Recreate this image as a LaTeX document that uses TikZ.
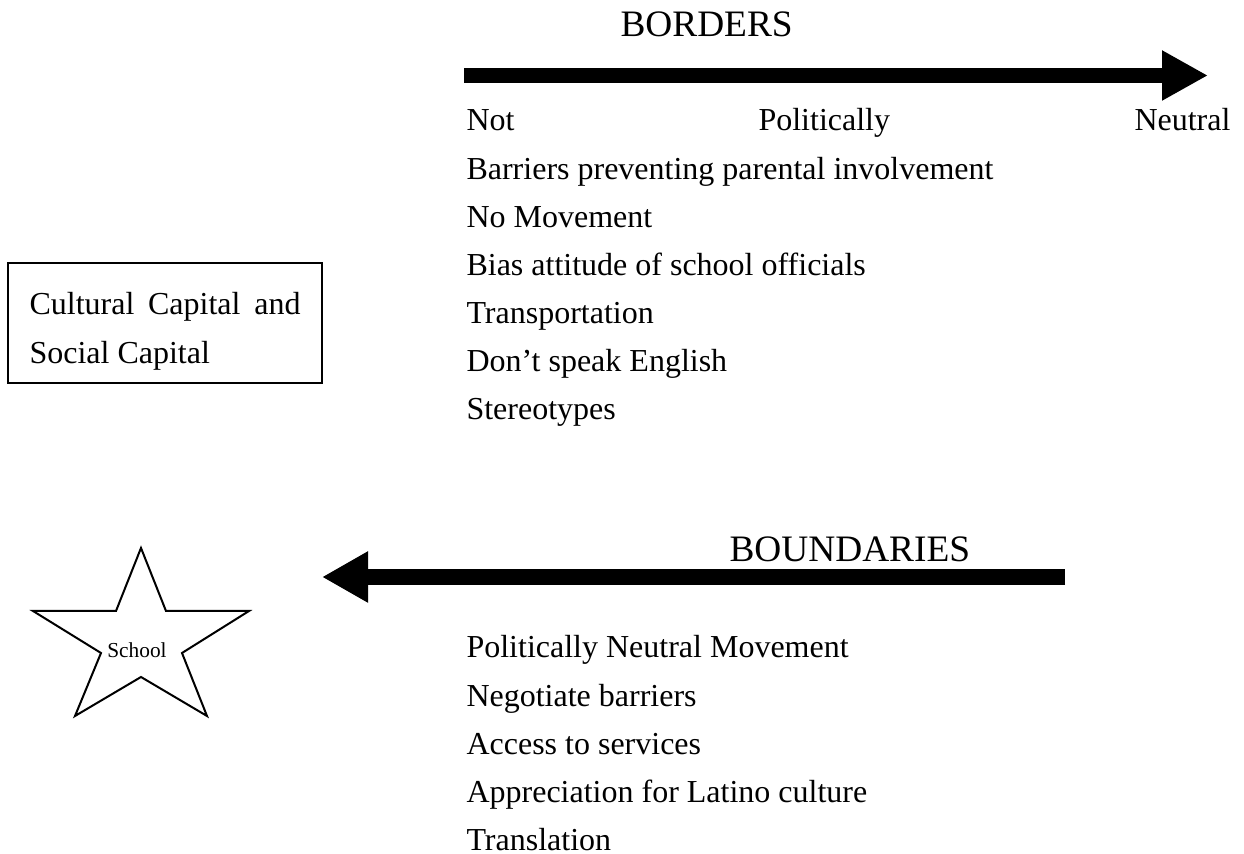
\documentclass[tikz,border=0pt]{standalone}
\usepackage{fontspec}
\setmainfont{Liberation Serif}
\usetikzlibrary{arrows.meta, positioning}

\begin{document}
\begin{tikzpicture}[
    x=0.375pt, y=-0.375pt,
    item/.style={inner sep=0pt, font=\fontsize{12}{14}\selectfont, text height=12.6pt, text depth=5.025pt},
    heading/.style={inner sep=0pt, font=\fontsize{14}{16}\selectfont},
    bigarrow/.style={line width=5.8pt, -{Triangle[length=17.25pt, width=17.6pt]}},
    capbox/.style={draw, line width=0.75pt, minimum width=117.75pt, minimum height=45pt, inner sep=0pt}
]
\useasboundingbox (0,0) rectangle (1244,854);

% borders
\node[heading, anchor=base west] (borders) at (620,37) {BORDERS};
\coordinate (bordersStart) at (464,75.5);
\coordinate (bordersEnd) at (1208,75.5);
\draw[bigarrow] (bordersStart) -- (bordersEnd);

\node[item, anchor=base west] (not) at (466,131) {Not};
\node[item, anchor=base west] (politically) at (758,131) {Politically};
\node[item, anchor=base east] (neutral) at (1231,131) {Neutral};
\node[item, below=0pt of not.south west, anchor=north west] (barriers) {Barriers preventing parental involvement};
\node[item, below=0pt of barriers.south west, anchor=north west] (nomove) {No Movement};
\node[item, below=0pt of nomove.south west, anchor=north west] (bias) {Bias attitude of school officials};
\node[item, below=0pt of bias.south west, anchor=north west] (transport) {Transportation};
\node[item, below=0pt of transport.south west, anchor=north west] (english) {Don’t speak English};
\node[item, below=0pt of english.south west, anchor=north west] (stereo) {Stereotypes};

% capital box
\node[capbox] (capital) at (165,323) {};
\node[item, anchor=base west] (cultural) at (29,315) {\makebox[101.6pt][s]{Cultural Capital and}};
\node[item, below=0pt of cultural.south west, anchor=north west] (social) {Social Capital};

% boundaries
\node[heading, anchor=base west] (boundaries) at (729,562) {BOUNDARIES};
\coordinate (boundStart) at (1065,577);
\coordinate (boundEnd) at (322,577);
\draw[bigarrow, line width=6pt, -{Triangle[length=17.25pt, width=18pt]}] (boundStart) -- (boundEnd);

\node[item, anchor=base west] (polneutral) at (466,658) {Politically Neutral Movement};
\node[item, below=0pt of polneutral.south west, anchor=north west] (negotiate) {Negotiate barriers};
\node[item, below=0pt of negotiate.south west, anchor=north west] (access) {Access to services};
\node[item, below=0pt of access.south west, anchor=north west] (latino) {Appreciation for Latino culture};
\node[item, below=0pt of latino.south west, anchor=north west] (translation) {Translation};

% school star
\draw[line width=0.75pt, line join=miter] (141,548) -- (166,611) -- (249,611) -- (182,653) -- (207,716)
    -- (141,677) -- (75,716) -- (101,653) -- (33,611) -- (116,611) -- cycle;
\node[inner sep=0pt, font=\fontsize{8}{10}\selectfont, anchor=base] (school) at (137,658) {School};
\end{tikzpicture}
\end{document}
